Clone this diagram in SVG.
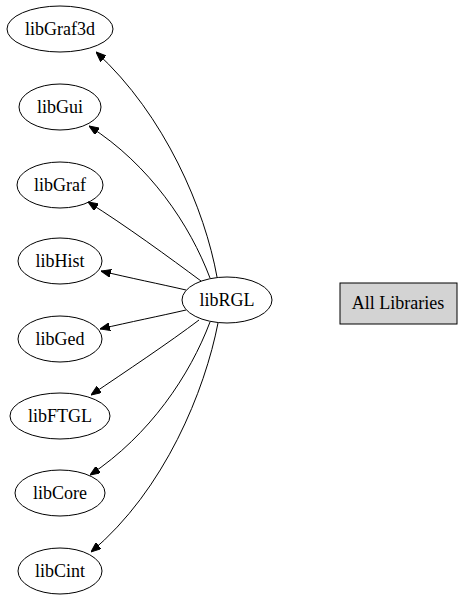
<svg xmlns="http://www.w3.org/2000/svg" width="464" height="600" viewBox="0 0 464 600">
<defs>
<style>
.n ellipse{fill:none;stroke:#000;stroke-width:1}
text{font-family:"Liberation Serif","Times New Roman",serif;font-size:18px;text-anchor:middle;fill:#000}
.e path{fill:none;stroke:#000;stroke-width:1}
</style>
<marker id="ah" markerWidth="10" markerHeight="8" refX="10" refY="4" orient="auto" markerUnits="userSpaceOnUse">
<polygon points="0,0 10,4 0,8" fill="#000" stroke="#000"/>
</marker>
</defs>
<rect width="464" height="600" fill="#fff"/>
<g class="e" id="edges">
<path d="M217,277 C205,210 165,115 96,52" marker-end="url(#ah)"/>
<path d="M210,278 C190,225 150,165 89,126" marker-end="url(#ah)"/>
<path d="M201,281 C170,258 125,225 88,202" marker-end="url(#ah)"/>
<path d="M186,290 C160,284 130,278 101,271" marker-end="url(#ah)"/>
<path d="M186,310 C160,316 130,322 100,329" marker-end="url(#ah)"/>
<path d="M199,320 C170,342 125,372 91,395" marker-end="url(#ah)"/>
<path d="M210,322 C190,375 150,435 90,475" marker-end="url(#ah)"/>
<path d="M218,323 C205,390 165,490 91,552" marker-end="url(#ah)"/>
</g>
<g class="n" id="libGraf3d"><ellipse cx="60" cy="29" rx="53" ry="23"/><text x="60" y="35">libGraf3d</text></g>
<g class="n" id="libGui"><ellipse cx="60" cy="107" rx="41" ry="23"/><text x="60" y="113">libGui</text></g>
<g class="n" id="libGraf"><ellipse cx="60" cy="185" rx="43" ry="23"/><text x="60" y="191">libGraf</text></g>
<g class="n" id="libHist"><ellipse cx="60" cy="261" rx="42" ry="23"/><text x="60" y="267">libHist</text></g>
<g class="n" id="libGed"><ellipse cx="60" cy="339" rx="42" ry="23"/><text x="60" y="345">libGed</text></g>
<g class="n" id="libRGL"><ellipse cx="227" cy="300" rx="45" ry="23"/><text x="227" y="306">libRGL</text></g>
<g class="n" id="libFTGL"><ellipse cx="60" cy="416" rx="50" ry="23"/><text x="60" y="422">libFTGL</text></g>
<g class="n" id="libCore"><ellipse cx="60" cy="493" rx="45" ry="23"/><text x="60" y="499">libCore</text></g>
<g class="n" id="libCint"><ellipse cx="60" cy="571" rx="42" ry="23"/><text x="60" y="577">libCint</text></g>
<g id="AllLibraries"><rect x="340" y="283" width="117" height="41" fill="#d3d3d3" stroke="#000"/><text x="398" y="309">All Libraries</text></g>
</svg>
